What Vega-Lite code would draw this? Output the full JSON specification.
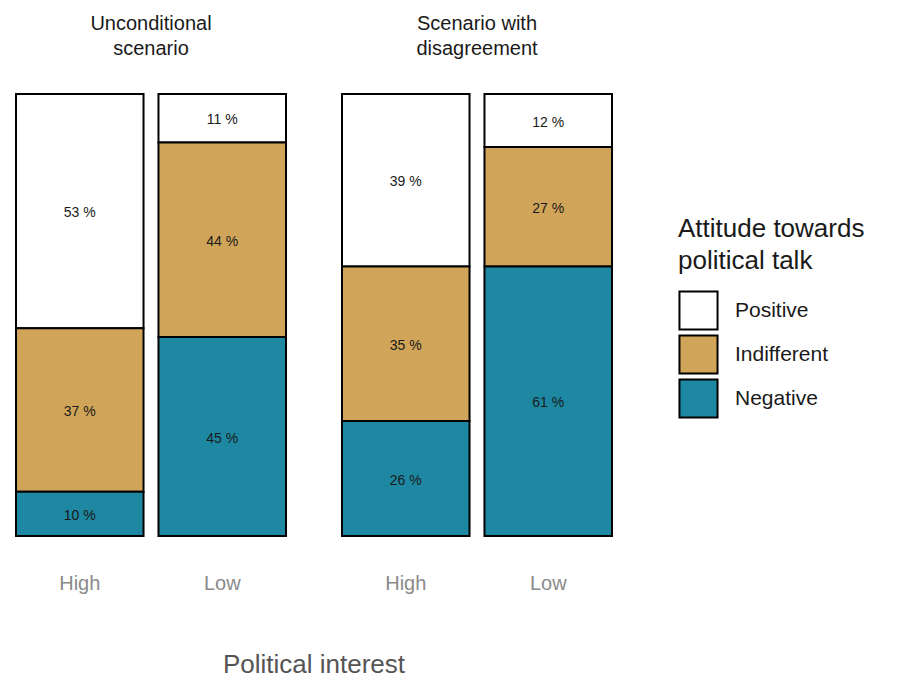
{
  "$schema": "https://vega.github.io/schema/vega-lite/v6.json",
  "padding": {"left": 15, "top": 14, "right": 5, "bottom": 5},
  "background": "white",
  "data": {"values": [
    {"scenario": "Unconditional|scenario", "interest": "High", "attitude": "Positive", "pct": 53, "label": "53 %", "rank": 3},
    {"scenario": "Unconditional|scenario", "interest": "High", "attitude": "Indifferent", "pct": 37, "label": "37 %", "rank": 2},
    {"scenario": "Unconditional|scenario", "interest": "High", "attitude": "Negative", "pct": 10, "label": "10 %", "rank": 1},
    {"scenario": "Unconditional|scenario", "interest": "Low", "attitude": "Positive", "pct": 11, "label": "11 %", "rank": 3},
    {"scenario": "Unconditional|scenario", "interest": "Low", "attitude": "Indifferent", "pct": 44, "label": "44 %", "rank": 2},
    {"scenario": "Unconditional|scenario", "interest": "Low", "attitude": "Negative", "pct": 45, "label": "45 %", "rank": 1},
    {"scenario": "Scenario with|disagreement", "interest": "High", "attitude": "Positive", "pct": 39, "label": "39 %", "rank": 3},
    {"scenario": "Scenario with|disagreement", "interest": "High", "attitude": "Indifferent", "pct": 35, "label": "35 %", "rank": 2},
    {"scenario": "Scenario with|disagreement", "interest": "High", "attitude": "Negative", "pct": 26, "label": "26 %", "rank": 1},
    {"scenario": "Scenario with|disagreement", "interest": "Low", "attitude": "Positive", "pct": 12, "label": "12 %", "rank": 3},
    {"scenario": "Scenario with|disagreement", "interest": "Low", "attitude": "Indifferent", "pct": 27, "label": "27 %", "rank": 2},
    {"scenario": "Scenario with|disagreement", "interest": "Low", "attitude": "Negative", "pct": 61, "label": "61 %", "rank": 1}
  ]},
  "facet": {
    "column": {
      "field": "scenario",
      "type": "nominal",
      "sort": ["Unconditional|scenario", "Scenario with|disagreement"],
      "title": "Political interest",
      "header": {
        "titleOrient": "bottom",
        "labelOrient": "top",
        "titleFont": "Liberation Sans",
        "titleFontSize": 26,
        "titleFontWeight": "normal",
        "titleColor": "#555555",
        "titlePadding": 49,
        "labelExpr": "split(datum.value, '|')",
        "labelFont": "Liberation Sans",
        "labelFontSize": 20,
        "labelColor": "#1a1a1a",
        "labelPadding": 34,
        "labelLineHeight": 25
      }
    }
  },
  "spacing": 54,
  "spec": {
    "width": 270,
    "height": 442,
    "encoding": {
      "x": {
        "field": "interest",
        "type": "nominal",
        "title": null,
        "scale": {"paddingInner": 0.105, "paddingOuter": 0},
        "axis": {
          "labelAngle": 0,
          "domain": false,
          "ticks": false,
          "labelFont": "Liberation Sans",
          "labelFontSize": 20,
          "labelColor": "#8a8a8a",
          "labelPadding": 36
        }
      },
      "y": {
        "field": "pct",
        "type": "quantitative",
        "stack": "normalize",
        "axis": null
      },
      "order": {"field": "rank", "type": "quantitative"}
    },
    "layer": [
      {
        "mark": {"type": "bar", "stroke": "black", "strokeWidth": 2},
        "encoding": {
          "color": {
            "field": "attitude",
            "type": "nominal",
            "scale": {"domain": ["Positive", "Indifferent", "Negative"], "range": ["#ffffff", "#d1a559", "#1e88a3"]},
            "legend": {
              "title": ["Attitude towards", "political talk"],
              "titleFont": "Liberation Sans",
              "titleFontSize": 26,
              "titleFontWeight": "normal",
              "titleColor": "#1a1a1a",
              "titleLineHeight": 32,
              "titlePadding": 16,
              "titleLimit": 400,
              "labelFont": "Liberation Sans",
              "labelFontSize": 21,
              "labelColor": "#1a1a1a",
              "labelOffset": 16,
              "symbolType": "square",
              "symbolSize": 1450,
              "symbolStrokeColor": "black",
              "symbolStrokeWidth": 2,
              "rowPadding": -4,
              "orient": "none",
              "legendX": 662,
              "legendY": 122
            }
          }
        }
      },
      {
        "mark": {"type": "text", "font": "Liberation Sans", "fontSize": 14, "color": "#1a1a1a", "dy": 2},
        "encoding": {
          "y": {"field": "pct", "type": "quantitative", "stack": "normalize", "bandPosition": 0.5},
          "text": {"field": "label", "type": "nominal"}
        }
      }
    ]
  },
  "config": {"view": {"stroke": null}}
}
